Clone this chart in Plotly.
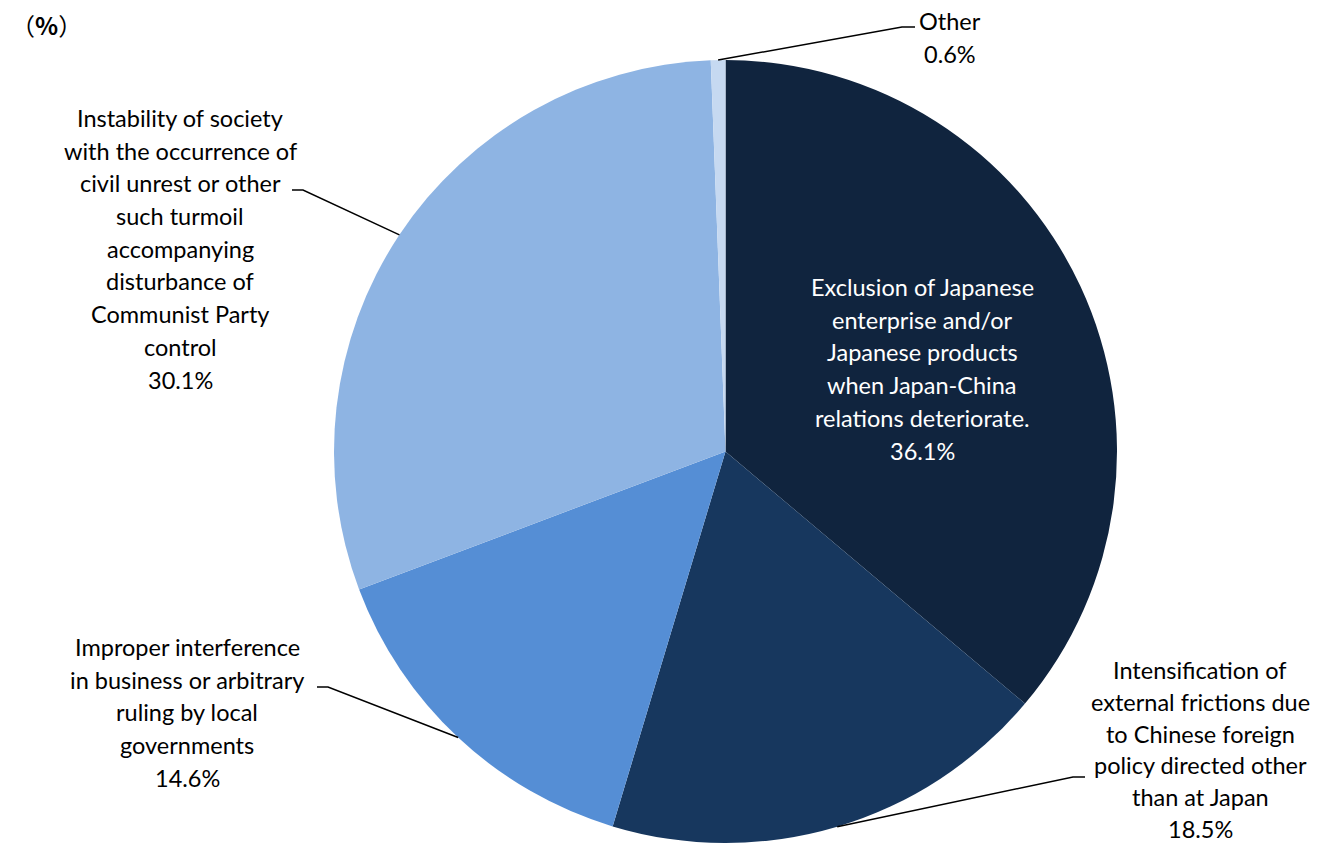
import math
import plotly.graph_objects as go

# browser page has an 8px body margin
OFF = 8
W, H = 1323 - OFF, 848 - OFF

categories = [
    "Exclusion of Japanese enterprise and/or Japanese products when Japan-China relations deteriorate.",
    "Intensification of external frictions due to Chinese foreign policy directed other than at Japan",
    "Improper interference in business or arbitrary ruling by local governments",
    "Instability of society with the occurrence of civil unrest or other such turmoil accompanying disturbance of Communist Party control",
    "Other",
]
values = [36.1, 18.5, 14.6, 30.1, 0.6]
value_labels = ["36.1%", "18.5%", "14.6%", "30.1%", "0.6%"]
label_lines = [
    ["Exclusion of Japanese", "enterprise and/or", "Japanese products", "when Japan-China", "relations deteriorate."],
    ["Intensification of", "external frictions due", "to Chinese foreign", "policy directed other", "than at Japan"],
    ["Improper interference", "in business or arbitrary", "ruling by local", "governments"],
    ["Instability of society", "with the occurrence of", "civil unrest or other", "such turmoil", "accompanying", "disturbance of", "Communist Party", "control"],
    ["Other"],
]
colors = ["#10243E", "#17375E", "#558ED5", "#8EB4E3", "#C6D9F1"]

# layout (screen pixels)
CX, CY, R = 725.5, 451.5, 391.5
FONT = "Lato, 'Open Sans', sans-serif"
FS = 23.5
# label block: center x, first-line center y, line height, text color
label_pos = [
    (922, 287, 32.7, "white"),
    (1200, 670, 31.8, "black"),
    (187, 647, 32.7, "black"),
    (180, 118, 32.7, "black"),
    (950, 21, 32.7, "black"),
]
# leader line elbow points: (elbow x, elbow y, end x)  None for inside label
leaders = [
    None,
    (1073, 777, 1085),
    (328, 687, 317),
    (303, 190, 292),
    (902, 27, 915),
]


def px(x):
    return (x - OFF) / W


def py(y):
    return 1 - (y - OFF) / H


fig = go.Figure(
    go.Pie(
        labels=categories,
        values=values,
        sort=False,
        direction="clockwise",
        rotation=0,
        marker=dict(colors=colors, line=dict(width=0)),
        textinfo="none",
        hoverinfo="label+percent",
        domain=dict(x=[px(CX - R), px(CX + R)], y=[max(0, py(CY + R)), py(CY - R)]),
        showlegend=False,
    )
)

annotations = []
shapes = []
total = sum(values)
cum = 0.0
for i, v in enumerate(values):
    mid = (cum + v / 2) / total * 2 * math.pi
    cum += v
    lines = label_lines[i] + [value_labels[i]]
    lx, ly0, lh, col = label_pos[i]
    for k, t in enumerate(lines):
        annotations.append(dict(
            x=px(lx), y=py(ly0 + k * lh), xref="paper", yref="paper",
            text=t, showarrow=False, xanchor="center", yanchor="middle",
            font=dict(family=FONT, size=FS, color=col),
        ))
    if leaders[i] is not None:
        ex, ey, endx = leaders[i]
        sx = CX + R * math.sin(mid)
        sy = CY - R * math.cos(mid)
        path = f"M {px(sx)},{py(sy)} L {px(ex)},{py(ey)} L {px(endx)},{py(ey)}"
        shapes.append(dict(type="path", xref="paper", yref="paper", path=path,
                           line=dict(color="black", width=1.5)))

annotations.append(dict(
    x=px(9), y=py(24), xref="paper", yref="paper", xanchor="left", yanchor="middle",
    text="（<b>%</b>）", showarrow=False,
    font=dict(family="'Noto Sans CJK JP', sans-serif", size=24, color="black"),
))

fig.update_layout(
    width=W, height=H,
    margin=dict(l=0, r=0, t=0, b=0),
    paper_bgcolor="white", plot_bgcolor="white",
    annotations=annotations, shapes=shapes,
)

fig.write_html("out.html")
